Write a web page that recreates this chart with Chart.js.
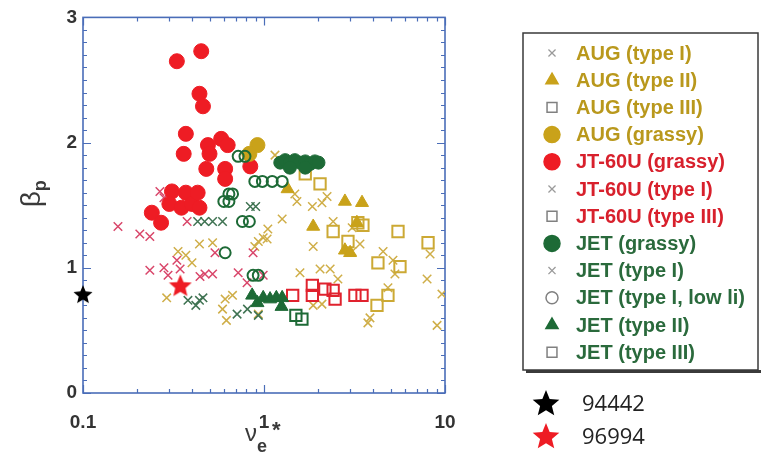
<!DOCTYPE html>
<html>
<head>
<meta charset="utf-8">
<script src="https://cdn.jsdelivr.net/npm/chart.js@4.4.1/dist/chart.umd.min.js"></script>
<style>
  html, body { margin: 0; padding: 0; background: #fff; }
  #wrap { width: 765px; height: 454px; }
</style>
</head>
<body>
<div id="wrap"><canvas id="chart" width="765" height="454"></canvas></div>
<script>
// ---- values: [nu_e*, beta_p] ----
const xTickValues = [0.1, 1, 10];
const xTickLabels = ['0.1', '1', '10'];
const yTickValues = [0, 1, 2, 3];
const yTickLabels = ['0', '1', '2', '3'];

const augType1 = [
    [0.44, 1.19], [0.52, 1.20], [0.335, 1.13], [0.40, 1.04], [0.29, 0.76], [0.61, 0.75],
    [0.67, 0.78], [0.59, 0.67], [0.62, 0.58], [0.99, 1.24], [0.93, 1.21], [0.89, 1.17],
    [1.05, 1.31], [1.04, 1.23], [1.15, 1.90], [1.26, 1.39], [1.48, 1.59], [1.52, 1.53],
    [1.85, 1.49], [2.09, 1.52], [2.23, 1.57], [1.87, 1.17], [1.58, 0.96], [2.04, 0.99],
    [2.32, 0.99], [2.56, 0.91], [1.87, 0.70], [2.09, 0.71], [2.41, 1.37], [3.07, 1.32],
    [3.39, 1.19], [3.07, 1.13], [4.55, 1.13], [5.16, 1.06], [5.29, 0.95], [4.84, 0.84],
    [3.85, 0.60], [3.75, 0.56], [8.27, 1.11], [7.96, 0.91], [9.62, 0.79], [9.04, 0.54],
    [0.93, 0.63], [0.37, 1.10]
];
const augType2 = [[2.80, 1.53], [3.48, 1.52], [1.35, 1.63], [1.87, 1.33], [3.26, 1.36], [2.80, 1.14], [2.99, 1.12]];
const augType3 = [
    [1.69, 1.75], [2.04, 1.67], [2.41, 1.29], [2.91, 1.21], [3.30, 1.36], [3.52, 1.34],
    [5.50, 1.29], [8.06, 1.20], [4.26, 1.04], [5.64, 1.01], [4.84, 0.78], [4.21, 0.70]
];
const augGrassy = [[0.92, 1.98], [0.83, 1.91]];
const jtGrassy = [
    [0.33, 2.65], [0.45, 2.73], [0.44, 2.39], [0.46, 2.29], [0.37, 2.07], [0.36, 1.91],
    [0.49, 1.98], [0.50, 1.91], [0.58, 2.03], [0.63, 1.98], [0.48, 1.79], [0.61, 1.79],
    [0.61, 1.71], [0.84, 1.81], [0.24, 1.44], [0.27, 1.36], [0.31, 1.61], [0.37, 1.60],
    [0.30, 1.51], [0.35, 1.48], [0.40, 1.51], [0.44, 1.48], [0.43, 1.60]
];
const jtType1 = [
    [0.156, 1.33], [0.206, 1.27], [0.234, 1.25], [0.266, 1.61], [0.28, 1.56], [0.234, 0.98],
    [0.28, 1.00], [0.295, 0.94], [0.33, 1.06], [0.344, 0.99], [0.443, 0.93], [0.472, 0.95],
    [0.52, 0.95], [0.536, 1.12], [0.376, 1.37], [0.72, 0.96], [0.806, 0.88], [0.99, 0.94],
    [0.87, 1.12]
];
const jtType3 = [[1.44, 0.78], [1.85, 0.86], [1.85, 0.78], [2.17, 0.83], [2.41, 0.82], [2.47, 0.75], [3.18, 0.78], [3.48, 0.78]];
const jetGrassy = [
    [1.23, 1.84], [1.31, 1.86], [1.39, 1.84], [1.48, 1.86], [1.58, 1.84], [1.69, 1.85],
    [1.80, 1.83], [1.91, 1.85], [2.00, 1.84], [1.39, 1.80], [1.69, 1.80]
];
const jetType1 = [
    [0.43, 1.37], [0.47, 1.37], [0.52, 1.37], [0.59, 1.37], [0.84, 1.49], [0.90, 1.49],
    [0.38, 0.74], [0.42, 0.70], [0.46, 0.76], [0.71, 0.63], [0.81, 0.67], [0.93, 0.62], [0.44, 0.74]
];
const jetLowLi = [
    [0.72, 1.89], [0.785, 1.89], [0.89, 1.69], [0.98, 1.69], [1.11, 1.69], [1.26, 1.69],
    [0.64, 1.59], [0.67, 1.59], [0.60, 1.53], [0.64, 1.53], [0.76, 1.37], [0.83, 1.37],
    [0.61, 1.12], [0.87, 0.94], [0.93, 0.94]
];
const jetType2 = [[0.86, 0.78], [0.92, 0.72], [0.99, 0.76], [1.08, 0.75], [1.17, 0.76], [1.26, 0.76], [1.25, 0.69]];
const jetType3 = [[1.50, 0.62], [1.62, 0.59]];
const shot94442 = [[0.1, 0.79]];
const shot96994 = [[0.345, 0.86]];

// colours
const gold = '#c9a21a', goldX = '#cfae48', goldText = '#b9981c';
const red = '#ee1c24', redX = '#d9466a', redText = '#d8202c';
const green = '#1d6a36', greenX = '#3f7352', greenText = '#2a6a3c';
const axisBlue = '#4a6db8';

// star marker drawn on a small canvas, used as pointStyle
function starPath(ctx, cx, cy, R, r) {
    ctx.beginPath();
    for (let i = 0; i < 10; i++) {
        const a = -Math.PI / 2 + i * Math.PI / 5;
        const rad = i % 2 ? r : R;
        ctx.lineTo(cx + rad * Math.cos(a), cy + rad * Math.sin(a));
    }
    ctx.closePath();
}
function starImage(size, color) {
    const c = document.createElement('canvas');
    c.width = size; c.height = size;
    const g = c.getContext('2d');
    starPath(g, size / 2, size / 2 + 1, size / 2, size / 2 * 0.45);
    g.fillStyle = color;
    g.fill();
    return c;
}

const toPts = arr => arr.map(([x, y]) => ({ x: x, y: y }));

// each entry: dataset + how it appears in the legend (lr = legend marker radius)
const series = [
    { label: 'AUG (type I)', data: augType1, style: 'crossRot', r: 6, fill: 'transparent', line: goldX, lw: 1.5, text: goldText, order: 12, lr: 5 },
    { label: 'AUG (type II)', data: augType2, style: 'triangle', r: 7.5, fill: gold, line: gold, lw: 1, text: goldText, order: 6, lr: 7 },
    { label: 'AUG (type III)', data: augType3, style: 'rect', r: 8, fill: 'transparent', line: '#cca934', lw: 2, text: goldText, order: 11, lr: 7 },
    { label: 'AUG (grassy)', data: augGrassy, style: 'circle', r: 7.5, fill: gold, line: gold, lw: 1, text: goldText, order: 4, lr: 8 },
    { label: 'JT-60U (grassy)', data: jtGrassy, style: 'circle', r: 7.5, fill: red, line: red, lw: 1, text: redText, order: 5, lr: 8 },
    { label: 'JT-60U (type I)', data: jtType1, style: 'crossRot', r: 6, fill: 'transparent', line: redX, lw: 1.5, text: redText, order: 10, lr: 5 },
    { label: 'JT-60U (type III)', data: jtType3, style: 'rect', r: 8, fill: 'transparent', line: '#e0222e', lw: 2, text: redText, order: 9, lr: 7 },
    { label: 'JET (grassy)', data: jetGrassy, style: 'circle', r: 6.5, fill: green, line: green, lw: 1, text: greenText, order: 3, lr: 8 },
    { label: 'JET (type I)', data: jetType1, style: 'crossRot', r: 6, fill: 'transparent', line: greenX, lw: 1.5, text: greenText, order: 8, lr: 5 },
    { label: 'JET (type I, low li)', data: jetLowLi, style: 'circle', r: 5.5, fill: 'transparent', line: green, lw: 2, text: greenText, order: 2, lr: 6 },
    { label: 'JET (type II)', data: jetType2, style: 'triangle', r: 7.5, fill: green, line: green, lw: 1, text: greenText, order: 1, lr: 7 },
    { label: 'JET (type III)', data: jetType3, style: 'rect', r: 8, fill: 'transparent', line: green, lw: 2, text: greenText, order: 7, lr: 7 }
];

const shots = [
    { label: '94442', data: shot94442, color: '#000000', size: 20 },
    { label: '96994', data: shot96994, color: '#ee1c24', size: 24 }
];

const datasets = series.map(s => ({
    label: s.label,
    data: toPts(s.data),
    pointStyle: s.style,
    pointRadius: s.r,
    pointBackgroundColor: s.fill,
    pointBorderColor: s.line,
    pointBorderWidth: s.lw,
    showLine: false,
    order: s.order
}));
shots.forEach(s => {
    datasets.push({
        label: s.label,
        data: toPts(s.data),
        pointStyle: starImage(s.size, s.color),
        pointRadius: s.size / 2,
        showLine: false,
        clip: false,
        order: 0
    });
});

// frame with inward tick marks on all four sides
const framePlugin = {
    id: 'frame',
    beforeDatasetsDraw(chart) {
        const { ctx, chartArea: a, scales: { x, y } } = chart;
        ctx.save();
        ctx.strokeStyle = axisBlue;
        ctx.lineWidth = 1.6;
        ctx.strokeRect(a.left, a.top, a.right - a.left, a.bottom - a.top);
        ctx.lineWidth = 1.2;
        ctx.beginPath();
        for (let i = 0; i <= 30; i++) {
            const py = Math.round(y.getPixelForValue(i / 10)) + 0.5;
            const len = i % 10 === 0 ? 8 : 4;
            ctx.moveTo(a.left, py); ctx.lineTo(a.left + len, py);
            ctx.moveTo(a.right, py); ctx.lineTo(a.right - len, py);
        }
        [0.1, 1].forEach(dec => {
            for (let k = 1; k <= 10; k++) {
                const px = Math.round(x.getPixelForValue(k * dec)) + 0.5;
                const len = k === 1 || k === 10 ? 8 : 4;
                ctx.moveTo(px, a.bottom); ctx.lineTo(px, a.bottom - len);
                ctx.moveTo(px, a.top); ctx.lineTo(px, a.top + len);
            }
        });
        ctx.stroke();
        ctx.restore();
    }
};

// axis titles: beta_p and nu_e*
const titlePlugin = {
    id: 'titles',
    afterDraw(chart) {
        const { ctx, chartArea: a } = chart;
        ctx.save();
        ctx.fillStyle = '#3a3a3a';
        ctx.textBaseline = 'alphabetic';
        ctx.translate(40, (a.top + a.bottom) / 2 - 16);
        ctx.rotate(-Math.PI / 2);
        ctx.font = '28px "Liberation Sans", Arial, sans-serif';
        ctx.fillText('\u03B2', -18, 0);
        ctx.font = 'bold 18px "Liberation Sans", Arial, sans-serif';
        ctx.fillText('p', -2, 6);
        ctx.restore();

        ctx.save();
        ctx.fillStyle = '#3a3a3a';
        ctx.font = '24px "Liberation Sans", Arial, sans-serif';
        ctx.fillText('\u03BD', 245, 441);
        ctx.font = 'bold 18px "Liberation Sans", Arial, sans-serif';
        ctx.fillText('e', 257, 452);
        ctx.font = 'bold 22px "Liberation Sans", Arial, sans-serif';
        ctx.fillText('*', 272, 437);
        ctx.restore();
    }
};

function drawLegendMarker(ctx, s, px, py) {
    ctx.save();
    let stroke = s.line;
    if (s.style === 'crossRot') stroke = '#9a9a9a';
    if (s.fill === 'transparent' && s.style !== 'crossRot') stroke = '#808080';
    ctx.strokeStyle = stroke;
    ctx.fillStyle = s.fill === 'transparent' ? 'rgba(255,255,255,0)' : s.fill;
    ctx.lineWidth = s.style === 'crossRot' ? 1.3 : 1.5;
    Chart.helpers.drawPoint(ctx, { pointStyle: s.style, radius: s.lr, borderWidth: ctx.lineWidth, rotation: 0 }, px, py);
    ctx.restore();
}

// boxed legend plus the two shot-number stars underneath
const legendPlugin = {
    id: 'boxLegend',
    afterDraw(chart) {
        const { ctx } = chart;
        const bx = 523, by = 33, bw = 235, bh = 337;
        ctx.save();
        ctx.fillStyle = '#3a3a3a';
        ctx.fillRect(bx + 3, by + bh, bw, 3);
        ctx.strokeStyle = '#3a3a3a';
        ctx.lineWidth = 1.5;
        ctx.strokeRect(bx, by, bw, bh);

        ctx.font = 'bold 20px "Liberation Sans", Arial, sans-serif';
        ctx.textBaseline = 'middle';
        series.forEach((s, i) => {
            const yy = 53 + i * 27.2;
            drawLegendMarker(ctx, s, 552, yy);
            ctx.fillStyle = s.text;
            ctx.fillText(s.label, 576, yy + 1);
        });

        ctx.font = '22px "Open Sans", "Noto Sans", sans-serif';
        shots.forEach((s, i) => {
            const yy = 404 + i * 33;
            starPath(ctx, 546, yy, 14, 6.2);
            ctx.fillStyle = s.color;
            ctx.fill();
            ctx.fillStyle = '#222222';
            ctx.fillText(s.label, 582, yy + 1);
        });
        ctx.restore();
    }
};

new Chart(document.getElementById('chart'), {
    type: 'scatter',
    data: { datasets: datasets },
    options: {
        responsive: false,
        animation: false,
        layout: { padding: { top: 15, right: 320, left: 0, bottom: 0 } },
        plugins: {
            legend: { display: false },
            tooltip: { enabled: false }
        },
        scales: {
            x: {
                type: 'logarithmic',
                min: 0.1,
                max: 10,
                afterBuildTicks: scale => { scale.ticks = xTickValues.map(v => ({ value: v })); },
                afterFit: scale => { scale.height = 61; },
                ticks: {
                    autoSkip: false,
                    maxRotation: 0,
                    padding: 18,
                    color: '#333333',
                    font: { family: '"Liberation Sans", Arial, sans-serif', size: 19, weight: 'bold' },
                    callback: (v, i) => xTickLabels[i]
                },
                grid: { display: false, drawTicks: false },
                border: { display: false }
            },
            y: {
                min: 0,
                max: 3,
                afterBuildTicks: scale => { scale.ticks = yTickValues.map(v => ({ value: v })); },
                afterFit: scale => { scale.width = 83; },
                ticks: {
                    padding: 6,
                    color: '#333333',
                    font: { family: '"Liberation Sans", Arial, sans-serif', size: 19, weight: 'bold' },
                    callback: (v, i) => yTickLabels[i]
                },
                grid: { display: false, drawTicks: false },
                border: { display: false }
            }
        }
    },
    plugins: [framePlugin, titlePlugin, legendPlugin]
});
</script>
</body>
</html>
